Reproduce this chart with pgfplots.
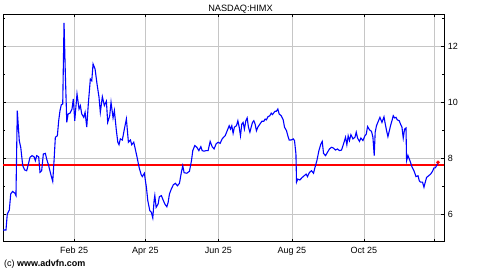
\documentclass[border=0pt]{standalone}
\usepackage{pgfplots}
\pgfplotsset{compat=1.18}
\usepackage{fontspec}
\setmainfont{Liberation Sans}
\begin{document}
\begin{tikzpicture}[x=1pt,y=1pt]
\path[use as bounding box] (0,0) rectangle (480,270);
\begin{axis}[
  at={(3pt,28.3pt)}, anchor=south west,
  scale only axis, width=441.3pt, height=227.7pt,
  xmin=-28.7, xmax=342.2, ymin=5.02, ymax=13.17,
  axis line style={black, line width=0.9pt},
  xtick={31,90.96,152.4,214.1,274.6,334},
  xticklabels={Feb 25,Apr 25,Jun 25,Aug 25,Oct 25,{}},
  ytick={6,8,10,12},
  minor ytick={7,9,11,13},
  yticklabel pos=right,
  tick align=inside,
  major tick length=3pt, minor tick length=2pt,
  tick style={black, line width=0.6pt},
  grid=major,
  major grid style={gray!45, line width=0.6pt},
  ticklabel style={font=\fontsize{9}{10}\selectfont},
  xticklabel style={yshift=-2pt},
  /pgf/number format/assume math mode=true,
  clip=true,
]
\addplot[color=red, line width=1.4pt, mark=none] coordinates {(-28.7,7.76) (342.2,7.76)};
\addplot[color=blue, line width=1.1pt, mark=none] coordinates {
(-29.0,5.44)(-26.2,5.44)(-25.1,6.01)(-23.4,6.15)(-22.2,6.73)(-20.6,6.82)(-18.6,6.75)(-17.8,6.67)
(-16.7,9.71)(-15.0,8.63)(-13.8,8.40)(-12.1,7.74)(-10.5,7.59)(-8.8,7.56)(-7.7,7.74)(-6.0,8.04)
(-4.3,8.10)(-2.6,8.06)(-1.5,7.92)(-0.4,8.10)(1.3,8.06)(2.4,7.50)(3.8,7.56)(5.2,8.16)(6.9,8.18)
(8.0,7.98)(9.7,7.74)(11.4,7.44)(13.1,7.18)(14.2,7.92)(15.3,8.76)(17.0,8.81)(18.1,9.35)(19.2,9.71)
(20.3,9.92)(21.5,9.95)(22.6,12.85)(23.7,11.02)(24.9,9.29)(26.0,9.59)(27.6,9.62)(29.3,9.77)
(30.4,10.13)(31.6,9.35)(33.5,10.31)(35.2,9.77)(36.3,9.89)(37.5,9.59)(39.2,9.47)(40.3,9.65)
(41.7,9.12)(43.0,9.95)(44.7,10.84)(45.9,10.78)(47.0,11.38)(48.7,11.20)(50.3,10.67)(52.0,10.19)
(53.1,9.65)(54.8,10.21)(56.5,9.89)(58.2,10.05)(59.3,9.29)(61.0,9.53)(62.1,10.01)(63.8,9.45)
(64.9,9.71)(66.6,8.99)(67.8,8.58)(68.8,8.49)(69.9,8.70)(71.6,8.66)(73.3,9.05)(75.0,9.41)
(76.7,8.58)(78.4,8.66)(79.5,8.49)(81.2,8.58)(82.3,8.37)(84.0,8.04)(85.7,7.68)(87.4,7.42)
(88.4,7.35)(90.1,7.47)(91.8,6.97)(93.0,6.49)(94.7,6.13)(96.0,6.07)(97.2,5.87)(98.3,6.49)
(98.9,6.67)(100.0,6.25)(101.7,6.37)(102.7,6.63)(104.4,6.67)(106.1,6.49)(107.3,6.37)(109.0,6.27)
(110.1,6.43)(111.2,6.73)(112.8,6.91)(114.5,7.06)(116.2,7.11)(117.9,7.02)(119.6,7.11)(121.2,7.50)
(122.4,7.74)(123.5,7.49)(125.8,7.47)(128.0,7.54)(129.7,7.92)(130.8,8.28)(132.5,8.46)(134.2,8.40)
(135.9,8.28)(137.6,8.42)(138.7,8.28)(140.3,8.26)(142.0,8.28)(143.7,8.28)(145.4,8.61)(147.1,8.42)
(148.7,8.34)(150.4,8.52)(152.1,8.58)(153.8,8.54)(155.5,8.70)(157.2,8.78)(158.0,8.81)(159.7,8.99)
(161.4,9.17)(162.5,9.05)(163.6,9.17)(164.7,8.90)(165.8,9.12)(167.5,9.17)(168.7,9.35)(169.8,9.12)
(170.9,8.81)(172.0,9.23)(173.1,9.29)(174.2,9.05)(175.4,9.35)(176.5,9.45)(177.6,9.12)(178.8,8.94)
(179.9,9.12)(181.0,9.29)(182.1,9.35)(183.2,9.23)(184.3,8.99)(185.5,9.12)(187.2,9.23)(188.9,9.33)
(190.5,9.33)(191.6,9.41)(192.7,9.38)(193.9,9.49)(195.6,9.53)(196.7,9.62)(197.8,9.57)(199.0,9.64)
(200.0,9.69)(201.1,9.69)(202.3,9.77)(203.4,9.59)(205.1,9.53)(206.8,9.38)(207.9,9.12)(209.6,8.99)
(210.7,8.81)(211.8,8.66)(213.5,8.66)(215.2,8.70)(216.3,8.64)(217.5,8.16)(218.0,7.15)(219.1,7.26)
(220.8,7.23)(222.8,7.32)(224.4,7.38)(226.1,7.44)(227.2,7.35)(228.9,7.50)(230.6,7.56)(232.3,7.47)
(233.9,7.74)(235.1,7.92)(236.8,8.28)(238.5,8.52)(239.6,8.61)(240.7,8.18)(242.4,8.10)(244.0,8.22)
(245.7,8.34)(247.4,8.40)(249.1,8.37)(250.8,8.30)(252.4,8.34)(254.1,8.28)(255.8,8.30)(257.5,8.52)
(259.2,8.76)(260.3,8.49)(261.4,8.81)(262.5,8.64)(263.7,8.85)(265.4,8.70)(267.1,8.76)(268.2,8.94)
(269.3,8.73)(270.9,8.61)(272.1,8.73)(273.8,8.64)(275.5,8.81)(276.6,8.87)(277.7,9.14)(279.4,9.02)
(281.0,8.97)(282.2,8.76)(283.3,8.10)(284.1,8.94)(285.2,9.17)(286.9,9.35)(288.1,9.47)(289.8,9.29)
(291.5,9.49)(292.6,9.23)(293.7,8.99)(294.8,8.78)(295.9,8.97)(297.0,9.17)(298.2,9.35)(299.3,9.53)
(300.4,9.45)(301.6,9.47)(302.7,9.38)(304.3,9.35)(305.4,9.23)(306.6,9.12)(307.7,8.73)(308.8,9.05)
(310.0,9.09)(310.5,7.92)(311.7,8.10)(313.3,7.92)(315.0,7.70)(316.7,7.56)(318.4,7.35)(320.1,7.38)
(321.2,7.20)(322.2,7.15)(323.9,7.15)(325.1,6.97)(326.2,7.15)(327.3,7.32)(329.0,7.38)(330.7,7.44)
(332.3,7.54)(333.5,7.66)(334.6,7.66)(335.7,7.74)(336.9,7.86)
};
\addplot[only marks, mark=*, color=red, mark size=1.6pt] coordinates {(336.9,7.86)};
\end{axis}
\node[anchor=base, inner sep=0pt, font=\fontsize{9.2}{11}\selectfont] at (240.5,258.3) {NASDAQ:HIMX};
\node[anchor=base west, inner sep=0pt, font=\fontsize{9}{10}\selectfont] at (4,3.3) {(c) \textbf{www.advfn.com}};
\end{tikzpicture}
\end{document}
